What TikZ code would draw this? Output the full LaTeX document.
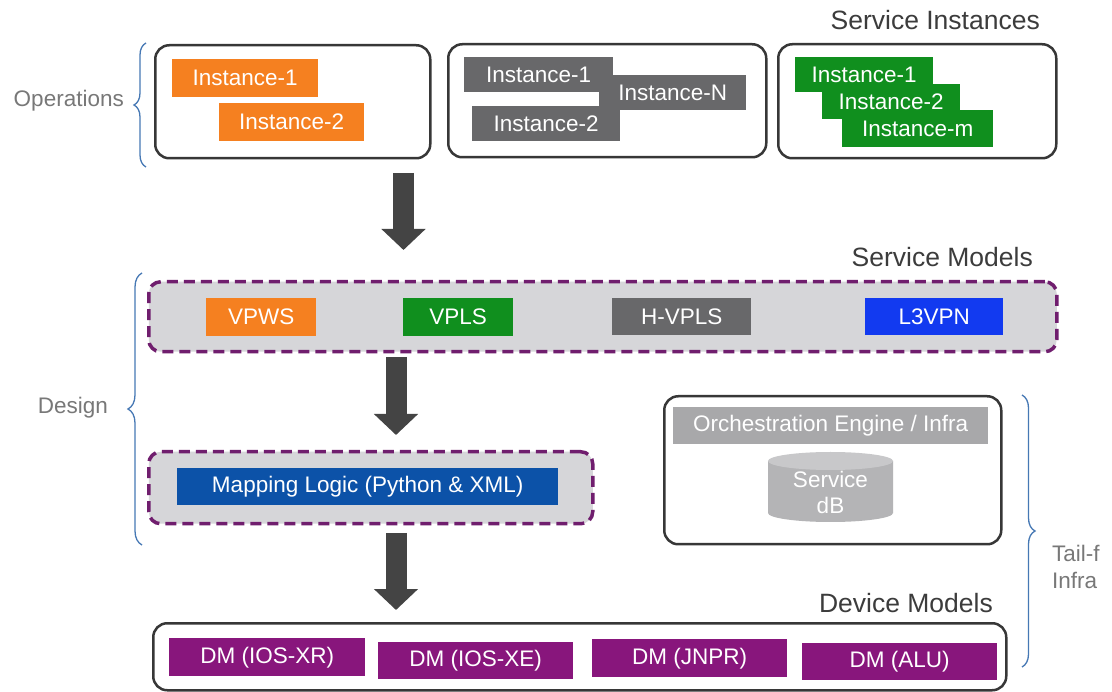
\documentclass[tikz,border=0pt]{standalone}
\usepackage{fontspec}
\setmainfont{Liberation Sans}
\usetikzlibrary{arrows.meta,decorations.pathreplacing}
\definecolor{orng}{RGB}{245,128,32}
\definecolor{gryi}{RGB}{104,104,106}
\definecolor{grn}{RGB}{16,143,30}
\definecolor{blu}{RGB}{18,58,240}
\definecolor{mblu}{RGB}{12,82,168}
\definecolor{purp}{RGB}{136,22,124}
\definecolor{dpurp}{RGB}{112,30,110}
\definecolor{lgry}{RGB}{214,214,217}
\definecolor{outl}{RGB}{55,55,55}
\definecolor{arrc}{RGB}{68,68,68}
\definecolor{brcc}{RGB}{70,120,180}
\definecolor{sectc}{RGB}{120,120,120}
\definecolor{headc}{RGB}{60,60,60}
\definecolor{orchc}{RGB}{168,168,170}
\definecolor{cylc}{RGB}{180,180,182}
\definecolor{cyltop}{RGB}{200,200,202}
\tikzset{
 txt/.style={font=\fontsize{22.5}{27}\selectfont},
 blk/.style={txt, text=white, inner sep=0pt, anchor=north west},
 rbox/.style={draw=outl, line width=2.5pt, rounded corners=14pt, fill=white, inner sep=0pt, anchor=north west},
 dbox/.style={draw=dpurp, fill=lgry, line width=3.5pt, dash pattern=on 11pt off 6pt, rounded corners=12pt, inner sep=0pt, anchor=north west},
 heading/.style={font=\fontsize{26.5}{30}\selectfont, text=headc, inner sep=0pt},
 sectlbl/.style={txt, text=sectc, inner sep=0pt},
 bigarrow/.style={draw=arrc, line width=21pt, -{Triangle[width=43pt,length=21pt]}},
 curly/.style={draw=brcc, line width=1.3pt, decorate, decoration={brace, amplitude=#1}},
}
\begin{document}
\begin{tikzpicture}[x=1pt,y=-1pt]
\useasboundingbox (0,0) rectangle (1112,692);
\fill[white] (0,0) rectangle (1112,692);

% headings
\node[heading, anchor=east] (hsi) at (1040,20) {Service Instances};
\node[heading, anchor=east] (hsm) at (1033,257) {Service Models};
\node[heading, anchor=east] (hdm) at (993,603) {Device Models};

% service instance boxes
\node[rbox, minimum width=275pt, minimum height=113pt] (sb1) at (154,44) {};
\node[rbox, minimum width=318pt, minimum height=113pt] (sb2) at (447,43) {};
\node[rbox, minimum width=278pt, minimum height=114pt] (sb3) at (777,43) {};

\node[blk, fill=orng, minimum width=146pt, minimum height=38pt] (o1) at (172,59) {Instance-1};
\node[blk, fill=orng, minimum width=145pt, minimum height=38pt] (o2) at (219,103) {Instance-2};

\node[blk, fill=gryi, minimum width=149pt, minimum height=35pt] (g1) at (464,57) {Instance-1};
\node[blk, fill=gryi, minimum width=147pt, minimum height=35pt] (gn) at (599,75) {Instance-N};
\node[blk, fill=gryi, minimum width=148pt, minimum height=35pt] (g2) at (472,106) {Instance-2};

\node[blk, fill=grn, minimum width=138pt, minimum height=35pt] (e1) at (795,57) {Instance-1};
\node[blk, fill=grn, minimum width=138pt, minimum height=35pt] (e2) at (822,84) {Instance-2};
\node[blk, fill=grn, minimum width=151pt, minimum height=37pt] (em) at (842,110) {Instance-m};

% operations brace
\draw[curly=12pt] (146,167) -- (146,43);
\node[sectlbl, anchor=east] (ops) at (124,101) {Operations};

% arrow 1
\coordinate (a1s) at (403.5,173);
\coordinate (a1e) at (403.5,250);
\draw[bigarrow] (a1s) -- (a1e);

% service models
\node[dbox, minimum width=908pt, minimum height=70pt] (smbox) at (147,280) {};
\node[blk, fill=orng, minimum width=110pt, minimum height=38pt] (vpws) at (206,298) {VPWS};
\node[blk, fill=grn, minimum width=110pt, minimum height=38pt] (vpls) at (403,298) {VPLS};
\node[blk, fill=gryi, minimum width=139pt, minimum height=37pt] (hvpls) at (612,298) {H-VPLS};
\node[blk, fill=blu, minimum width=138pt, minimum height=37pt] (l3vpn) at (865,298) {L3VPN};

% arrow 2
\coordinate (a2s) at (396,357);
\coordinate (a2e) at (396,435);
\draw[bigarrow] (a2s) -- (a2e);

% mapping logic
\node[dbox, minimum width=444pt, minimum height=72pt] (mapbox) at (147,450) {};
\node[blk, fill=mblu, minimum width=381pt, minimum height=37pt] (maplogic) at (177,468) {Mapping Logic (Python \& XML)};

% design brace
\draw[curly=14pt] (142,545) -- (142,273);
\node[sectlbl, anchor=east] (design) at (108,408) {Design};

% orchestration
\node[rbox, minimum width=337pt, minimum height=148pt] (orchbox) at (663,395) {};
\node[blk, fill=orchc, minimum width=315pt, minimum height=37pt] (orch) at (673,407) {Orchestration Engine / Infra};
\fill[cylc] (768,461) -- (768,513) arc[start angle=180, end angle=360, x radius=62.5pt, y radius=9pt] -- (893,461) -- cycle;
\fill[cyltop] (830.5,461) ellipse[x radius=62.5pt, y radius=9pt];
\node[txt, text=white, align=center, inner sep=0pt] (db) at (830.5,492) {Service\\[-1pt]dB};

% arrow 3
\coordinate (a3s) at (396,533);
\coordinate (a3e) at (396,610);
\draw[bigarrow] (a3s) -- (a3e);

% device models
\node[rbox, minimum width=853pt, minimum height=67pt] (devbox) at (152,622) {};
\node[blk, fill=purp, minimum width=196pt, minimum height=38pt] (dm1) at (169,638) {DM (IOS-XR)};
\node[blk, fill=purp, minimum width=195pt, minimum height=37pt] (dm2) at (378,642) {DM (IOS-XE)};
\node[blk, fill=purp, minimum width=195pt, minimum height=38pt] (dm3) at (592,639) {DM (JNPR)};
\node[blk, fill=purp, minimum width=195pt, minimum height=37pt] (dm4) at (802,643) {DM (ALU)};

% tail-f brace
\draw[curly=13pt] (1022,395) -- (1022,667);
\node[sectlbl, anchor=west, align=left] (tailf) at (1052,567) {Tail-f\\Infra};
\end{tikzpicture}
\end{document}
